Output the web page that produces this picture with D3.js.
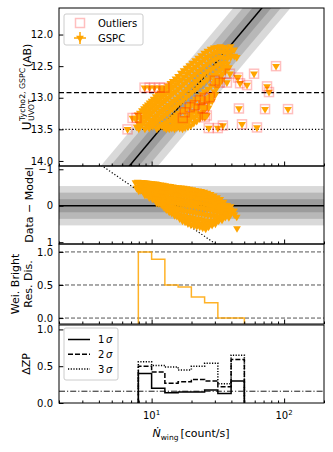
<!DOCTYPE html>
<html>
<head>
<meta charset="utf-8">
<script src="https://cdn.jsdelivr.net/npm/d3@7"></script>
<style>
  body { margin: 0; background: #fff; }
  svg text { font-family: "DejaVu Sans", sans-serif; }
</style>
</head>
<body>
<svg id="chart" width="333" height="452"></svg>
<script>
// fitted model and limits
const ZP = 16.16
const sigma = 0.18
const satMag = 12.92
const limMag = 13.5

// GSPC stars (count rate, magnitude)
const gspcN = [
  7.55, 7.7,
  7.85, 7.95, 8.0,
  8.15, 8.25, 8.2,
  8.45, 8.55, 8.5,
  8.75, 8.85, 8.8, 8.9,
  9.05, 9.15, 9.1, 9.2,
  9.35, 9.45, 9.4, 9.5,
  9.65, 9.75, 9.7, 9.8, 9.6,
  10.0, 10.1, 9.95, 10.05, 10.15,
  10.35, 10.45, 10.4, 10.5, 10.3,
  10.75, 10.85, 10.8, 10.9, 10.7, 10.95,
  11.15, 11.25, 11.2, 11.3, 11.1, 11.35,
  11.65, 11.75, 11.7, 11.8, 11.6, 11.85,
  12.15, 12.25, 12.2, 12.3, 12.1, 12.35, 12.4,
  12.65, 12.75, 12.7, 12.8, 12.6, 12.85, 12.9, 13.0,
  13.25, 13.35, 13.3, 13.4, 13.2, 13.45, 13.5, 13.6,
  13.85, 13.95, 13.9, 14.0, 13.8, 14.05, 14.1, 14.2, 14.3,
  14.45, 14.55, 14.5, 14.6, 14.4, 14.65, 14.7, 14.9, 14.8,
  15.15, 15.25, 15.2, 15.3, 15.1, 15.35, 15.4, 15.5, 15.6,
  15.85, 15.95, 15.9, 16.0, 15.8, 16.05, 16.1, 16.3, 16.2,
  16.65, 16.75, 16.7, 16.8, 16.6, 16.85, 16.9, 17.1, 17.0,
  17.45, 17.55, 17.5, 17.6, 17.4, 17.65, 17.7, 17.9, 18.0,
  18.35, 18.45, 18.4, 18.5, 18.3, 18.55, 18.6, 18.8, 18.9,
  19.25, 19.35, 19.3, 19.4, 19.2, 19.45, 19.5, 19.1, 19.8, 19.7,
  20.25, 20.35, 20.3, 20.4, 20.2, 20.45, 20.5, 20.8, 20.9,
  21.35, 21.45, 21.4, 21.5, 21.3, 21.55, 21.6, 21.2, 21.9, 22.0,
  22.45, 22.55, 22.5, 22.6, 22.4, 22.65, 22.7, 23.1, 23.0,
  23.65, 23.75, 23.7, 23.8, 23.6, 23.85, 23.9, 23.5, 24.3, 24.4,
  24.95, 25.05, 25.0, 25.1, 24.9, 25.15, 25.2, 24.8, 25.6, 25.7,
  26.35, 26.45, 26.4, 26.5, 26.3, 26.55, 26.6, 26.9, 27.0,
  27.85, 27.95, 27.9, 28.0, 27.8, 28.05, 28.1, 28.6, 29.0,
  29.45, 29.55, 29.5, 29.6, 29.4, 29.65, 29.7, 30.3, 30.8,
  31.15, 31.25, 31.2, 31.3, 31.1, 31.35, 32.0, 32.5,
  32.95, 33.05, 33.0, 33.1, 32.9, 33.15, 34.0, 34.3,
  34.95, 35.05, 35.0, 35.1, 34.9, 36.0, 36.4,
  37.15, 37.25, 37.2, 37.3, 38.3,
  39.45, 39.55, 39.5,
  41.9, 42.1,
  43.9, 44.1
]
const gspcMag = [
  13.33, 13.46,
  13.27, 13.40, 13.49,
  13.24, 13.34, 13.45,
  13.20, 13.31, 13.42,
  13.17, 13.26, 13.38, 13.49,
  13.14, 13.23, 13.33, 13.45,
  13.11, 13.20, 13.30, 13.41,
  13.08, 13.17, 13.27, 13.38, 13.48,
  13.05, 13.14, 13.24, 13.35, 13.45,
  13.02, 13.11, 13.20, 13.31, 13.42,
  12.98, 13.07, 13.17, 13.28, 13.39, 13.49,
  12.95, 13.04, 13.14, 13.24, 13.36, 13.46,
  12.92, 13.00, 13.10, 13.21, 13.33, 13.44,
  12.88, 12.97, 13.07, 13.18, 13.30, 13.42, 13.47,
  12.85, 12.94, 13.04, 13.15, 13.27, 13.39, 13.49, 13.45,
  12.81, 12.90, 13.00, 13.12, 13.24, 13.36, 13.47, 13.49,
  12.77, 12.86, 12.96, 13.08, 13.20, 13.33, 13.45, 13.48, 13.38,
  12.74, 12.83, 12.93, 13.05, 13.17, 13.30, 13.42, 13.49, 13.35,
  12.70, 12.79, 12.90, 13.02, 13.14, 13.27, 13.40, 13.47, 13.33,
  12.66, 12.75, 12.86, 12.98, 13.10, 13.24, 13.38, 13.48, 13.44,
  12.61, 12.71, 12.82, 12.94, 13.07, 13.21, 13.36, 13.49, 13.42,
  12.57, 12.67, 12.78, 12.90, 13.03, 13.18, 13.33, 13.47, 13.40,
  12.53, 12.63, 12.74, 12.86, 12.99, 13.14, 13.30, 13.46, 13.38,
  12.49, 12.59, 12.70, 12.82, 12.95, 13.10, 13.26, 13.37, 13.44, 13.31,
  12.45, 12.55, 12.66, 12.78, 12.91, 13.06, 13.22, 13.40, 13.32,
  12.41, 12.51, 12.62, 12.74, 12.87, 13.02, 13.18, 13.30, 13.37, 13.26,
  12.37, 12.47, 12.58, 12.70, 12.83, 12.98, 13.14, 13.33, 13.25,
  12.33, 12.43, 12.54, 12.66, 12.79, 12.94, 13.10, 13.25, 13.30, 13.22,
  12.29, 12.39, 12.50, 12.62, 12.75, 12.90, 13.06, 13.20, 13.27, 13.15,
  12.26, 12.36, 12.46, 12.58, 12.71, 12.86, 13.02, 13.16, 13.08,
  12.23, 12.33, 12.43, 12.55, 12.67, 12.81, 12.96, 13.05, 12.98,
  12.21, 12.30, 12.40, 12.52, 12.64, 12.77, 12.90, 12.95, 12.85,
  12.20, 12.28, 12.38, 12.49, 12.60, 12.72, 12.80, 12.75,
  12.19, 12.27, 12.36, 12.46, 12.56, 12.66, 12.72, 12.62,
  12.20, 12.28, 12.37, 12.45, 12.52, 12.58, 12.52,
  12.22, 12.30, 12.38, 12.46, 12.52,
  12.19, 12.28, 12.36,
  12.24, 12.34,
  12.36, 12.67
]

// rejected stars
const outN = [6.58, 7.18, 7.69, 8.85, 9.66, 10.5, 11.5, 12.5, 17.2, 17.8,
  19.4, 21.2, 23.1, 24.3, 25.2, 25.2, 26.1, 27.5, 27.0, 30.0,
  31.6, 32.7, 34.5, 37.0, 39.0, 44.9, 46.5, 52.5, 45.6, 48.1,
  59.3, 62.4, 71.8, 74.3, 76.9, 86.9, 107]
const outMag = [13.50, 13.32, 13.32, 12.84, 12.84, 12.84, 12.84, 12.84, 13.32, 13.23,
  13.15, 13.12, 13.04, 13.17, 13.01, 13.31, 13.28, 12.99, 13.48, 12.73,
  13.48, 12.76, 13.44, 12.76, 12.62, 12.68, 12.77, 12.80, 13.17, 13.42,
  12.62, 13.47, 13.18, 12.82, 12.91, 12.50, 13.18]

// binned panels (0.1 dex bins)
const binEdges = [7.94, 10, 12.59, 15.85, 19.95, 25.12, 31.62, 39.81, 50.12]
const brightResDis = [1.0, 0.89, 0.5, 0.47, 0.32, 0.23, 0, 0]
const dzp1 = [0.40, 0.20, 0.14, 0.15, 0.15, 0.175, 0.13, 0.30]
const dzp2 = [0.50, 0.42, 0.27, 0.29, 0.32, 0.30, 0.22, 0.59]
const dzp3 = [0.56, 0.51, 0.49, 0.45, 0.50, 0.54, 0.26, 0.65]
const dzpRef = 0.16

const magTicks = [12.0, 12.5, 13.0, 13.5, 14.0]
const resTicks = [-1, 0, 1]
const fracTicks = [0, 0.5, 1.0]
const xMajor = [10, 100]
const xMinor = [2, 3, 4, 5, 6, 7, 8, 9, 20, 30, 40, 50, 60, 70, 80, 90, 200]

const svg = d3.select('#chart')
const X0 = 59, X1 = 324
const panels = [{top: 8, bot: 166}, {top: 166, bot: 244}, {top: 244, bot: 324}, {top: 325, bot: 403}]

const x = d3.scaleLog().domain([2, 200]).range([X0, X1])
const yMag = d3.scaleLinear().domain([11.58, 14.08]).range([8, 166])
const yRes = d3.scaleLinear().domain([-1.09, 1.05]).range([166, 244])
const yDis = d3.scaleLinear().domain([-0.09, 1.12]).range([324, 244])
const yZp = d3.scaleLinear().domain([0, 1.06]).range([403, 325])

const model = n => ZP - 2.5 * Math.log10(n)
const xEnds = x.domain()
const orange = '#ffa500'

const defs = svg.append('defs')
panels.forEach((p, i) => {
  defs.append('clipPath').attr('id', 'clip' + i)
    .append('rect').attr('x', X0).attr('y', p.top).attr('width', X1 - X0).attr('height', p.bot - p.top)
})
function panel(i){
  return svg.append('g').attr('clip-path', `url(#clip${i})`)
}
function hline(g, y, dash, w){
  g.append('line').attr('x1', X0).attr('x2', X1).attr('y1', y).attr('y2', y)
    .attr('stroke', '#000').attr('stroke-width', w).attr('stroke-dasharray', dash)
}
const tri = d3.symbol().type(d3.symbolTriangle).size(26)()

// ---- panel 1: magnitude vs count rate
const p1 = panel(0)
;[1, 2, 3].forEach(k => {
  p1.append('path').datum(xEnds)
    .attr('d', d3.area().x(n => x(n)).y0(n => yMag(model(n) - k * sigma)).y1(n => yMag(model(n) + k * sigma)))
    .attr('fill', '#000').attr('fill-opacity', 0.15)
})
p1.append('path').datum(xEnds)
  .attr('d', d3.line().x(n => x(n)).y(n => yMag(model(n))))
  .attr('fill', 'none').attr('stroke', '#000').attr('stroke-width', 1.5)
hline(p1, yMag(satMag), '5,2.5', 1.2)
hline(p1, yMag(limMag), '1.2,2', 1.2)

const allN = gspcN.concat(outN)
const allMag = gspcMag.concat(outMag)
p1.selectAll('path.pt').data(d3.range(allN.length)).join('path')
  .attr('class', 'pt').attr('d', tri)
  .attr('transform', i => `translate(${x(allN[i])},${yMag(allMag[i])}) rotate(180)`)
  .attr('fill', orange)
p1.selectAll('rect.out').data(d3.range(outN.length)).join('rect')
  .attr('class', 'out')
  .attr('x', i => x(outN[i]) - 4.5).attr('y', i => yMag(outMag[i]) - 4.5)
  .attr('width', 9).attr('height', 9)
  .attr('fill', 'none').attr('stroke', 'red').attr('stroke-opacity', 0.25).attr('stroke-width', 1.5)

// ---- panel 2: residuals
const p2 = panel(1)
;[1, 2, 3].forEach(k => {
  p2.append('rect').attr('x', X0).attr('width', X1 - X0)
    .attr('y', yRes(-k * sigma)).attr('height', yRes(k * sigma) - yRes(-k * sigma))
    .attr('fill', '#000').attr('fill-opacity', 0.15)
})
hline(p2, yRes(0), null, 1.5)
p2.append('path').datum(xEnds)
  .attr('d', d3.line().x(n => x(n)).y(n => yRes(limMag - model(n))))
  .attr('fill', 'none').attr('stroke', '#000').attr('stroke-width', 1.2).attr('stroke-dasharray', '1.2,2')
p2.selectAll('path.pt').data(d3.range(gspcN.length)).join('path')
  .attr('class', 'pt').attr('d', tri)
  .attr('transform', i => `translate(${x(gspcN[i])},${yRes(gspcMag[i] - model(gspcN[i]))}) rotate(180)`)
  .attr('fill', orange)

// step outline helper
function stepPts(vals, base){
  const pts = [[binEdges[0], base]]
  vals.forEach((v, i) => { pts.push([binEdges[i], v]); pts.push([binEdges[i + 1], v]) })
  pts.push([binEdges[binEdges.length - 1], base])
  return pts
}

// ---- panel 3: weighted bright residual distribution
const p3 = panel(2)
fracTicks.forEach(v => {
  p3.append('line').attr('x1', X0).attr('x2', X1).attr('y1', yDis(v)).attr('y2', yDis(v))
    .attr('stroke', '#555').attr('stroke-width', 1).attr('stroke-dasharray', '4,2')
})
p3.append('path').datum(stepPts(brightResDis, -0.3))
  .attr('d', d3.line().x(d => x(d[0])).y(d => yDis(d[1])))
  .attr('fill', 'none').attr('stroke', orange).attr('stroke-opacity', 0.85).attr('stroke-width', 1.5)

// ---- panel 4: zero point shifts
const p4 = panel(3)
hline(p4, yZp(dzpRef), '6,2,1.2,2', 0.9)
const zpLine = d3.line().x(d => x(d[0])).y(d => yZp(d[1]))
const zpSets = [[dzp1, null], [dzp2, '5,2'], [dzp3, '1.2,1.5']]
zpSets.forEach(([vals, dash]) => {
  p4.append('path').datum(stepPts(vals, 0)).attr('d', zpLine)
    .attr('fill', 'none').attr('stroke', '#000').attr('stroke-width', 1.5).attr('stroke-dasharray', dash)
})

// ---- axes and frames
panels.forEach(p => {
  const g = svg.append('g').attr('transform', `translate(0,${p.bot})`)
  g.call(d3.axisBottom(x).tickValues(xMajor).tickSize(-4.5).tickFormat(''))
  g.append('g').call(d3.axisBottom(x).tickValues(xMinor).tickSize(-2.5).tickFormat(''))
  g.selectAll('.domain').remove()
})
const yAxes = [
  [yMag, magTicks, d3.format('.1f')],
  [yRes, resTicks, d3.format('d')],
  [yDis, fracTicks, d3.format('.1f')],
  [yZp, fracTicks, d3.format('.1f')]
]
yAxes.forEach(([sc, ticks, fmt]) => {
  const g = svg.append('g').attr('transform', `translate(${X0},0)`)
    .call(d3.axisLeft(sc).tickValues(ticks).tickSize(-4.5).tickPadding(6).tickFormat(fmt))
  g.select('.domain').remove()
  g.attr('font-family', 'DejaVu Sans').attr('font-size', 10)
})
panels.forEach(p => {
  svg.append('rect').attr('x', X0).attr('y', p.top).attr('width', X1 - X0).attr('height', p.bot - p.top)
    .attr('fill', 'none').attr('stroke', '#000').attr('stroke-width', 1)
})

// x tick labels on the bottom panel
xMajor.forEach((v, i) => {
  const t = svg.append('text').attr('x', x(v)).attr('y', 419).attr('text-anchor', 'middle').attr('font-size', 10)
  t.append('tspan').text('10')
  t.append('tspan').attr('font-size', 7).attr('dy', -4.5).text(i + 1)
})

// ---- legends
const lg1 = svg.append('g')
lg1.append('rect').attr('x', 64).attr('y', 14).attr('width', 79).attr('height', 31).attr('rx', 2)
  .attr('fill', '#fff').attr('fill-opacity', 0.8).attr('stroke', '#ccc')
lg1.append('rect').attr('x', 75.5).attr('y', 18.5).attr('width', 9).attr('height', 9)
  .attr('fill', 'none').attr('stroke', 'red').attr('stroke-opacity', 0.25).attr('stroke-width', 1.5)
lg1.append('line').attr('x1', 74).attr('x2', 86).attr('y1', 38).attr('y2', 38).attr('stroke', orange).attr('stroke-width', 1.5)
lg1.append('line').attr('x1', 80).attr('x2', 80).attr('y1', 32).attr('y2', 44).attr('stroke', orange).attr('stroke-width', 1.5)
lg1.append('path').attr('d', tri).attr('transform', 'translate(80,38) rotate(180)').attr('fill', orange)
lg1.append('text').attr('x', 98).attr('y', 27).attr('font-size', 10).text('Outliers')
lg1.append('text').attr('x', 98).attr('y', 42).attr('font-size', 10).text('GSPC')

const lg4 = svg.append('g')
lg4.append('rect').attr('x', 64).attr('y', 328).attr('width', 54).attr('height', 52).attr('rx', 2)
  .attr('fill', '#fff').attr('fill-opacity', 0.8).attr('stroke', '#ccc')
zpSets.forEach(([vals, dash], i) => {
  const yy = 339.5 + i * 14.8
  lg4.append('line').attr('x1', 68).attr('x2', 90).attr('y1', yy).attr('y2', yy)
    .attr('stroke', '#000').attr('stroke-width', 1.5).attr('stroke-dasharray', dash)
  const t = lg4.append('text').attr('x', 98).attr('y', yy + 3.5).attr('font-size', 10)
  t.append('tspan').text(i + 1)
  t.append('tspan').attr('dx', 1.5).attr('font-style', 'italic').text('σ')
})

// ---- axis labels
// U_UVOT^{Tycho2, GSPC}(AB)
{
  const g = svg.append('g').attr('transform', 'translate(31,87) rotate(-90)')
  const u = g.append('text').attr('font-size', 12).text('U')
  const sup = g.append('text').attr('font-size', 7.8).attr('y', -6).text('Tycho2, GSPC')
  const sub = g.append('text').attr('font-size', 7.8).attr('y', 3).text('UVOT')
  const ab = g.append('text').attr('font-size', 11).text('(AB)')
  const wu = u.node().getComputedTextLength()
  const ws = Math.max(sup.node().getComputedTextLength(), sub.node().getComputedTextLength())
  const wab = ab.node().getComputedTextLength()
  const L = wu + ws + 1 + wab
  u.attr('x', -L / 2)
  sup.attr('x', -L / 2 + wu + 0.5)
  sub.attr('x', -L / 2 + wu + 0.5)
  ab.attr('x', -L / 2 + wu + ws + 1)
}
svg.append('text').attr('transform', 'translate(33,205) rotate(-90)').attr('text-anchor', 'middle')
  .attr('font-size', 11).text('Data − Model')
svg.append('text').attr('transform', 'translate(19,284) rotate(-90)').attr('text-anchor', 'middle')
  .attr('font-size', 11).text('Wei. Bright')
svg.append('text').attr('transform', 'translate(32,284) rotate(-90)').attr('text-anchor', 'middle')
  .attr('font-size', 11).text('Res. Dis.')
svg.append('text').attr('transform', 'translate(30,364) rotate(-90)').attr('text-anchor', 'middle')
  .attr('font-size', 11).text('ΔZP')

const xl = svg.append('text').attr('x', 191).attr('y', 437).attr('text-anchor', 'middle').attr('font-size', 11)
xl.append('tspan').attr('font-style', 'italic').text('Ṅ')
xl.append('tspan').attr('font-size', 7.5).attr('dy', 2.5).text('wing')
xl.append('tspan').attr('dy', -2.5).attr('dx', 2).text('[count/s]')
</script>
</body>
</html>
